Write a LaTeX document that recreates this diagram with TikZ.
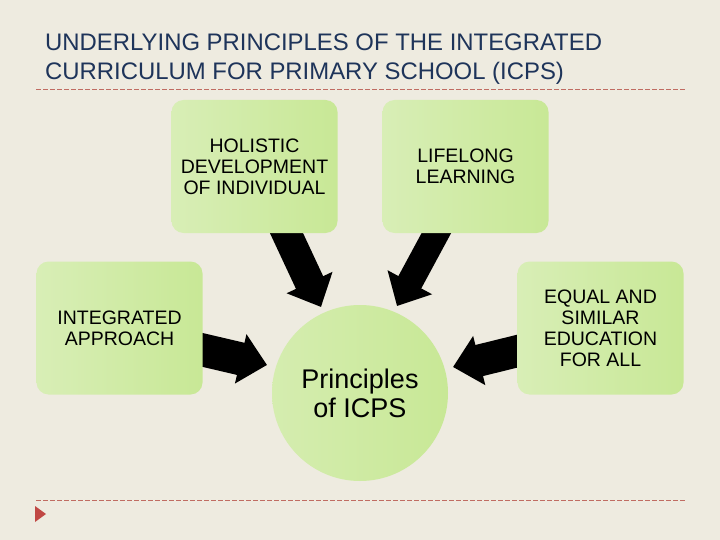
\documentclass[tikz,border=0pt]{standalone}
\usepackage{fontspec}
\setmainfont{Liberation Sans}
\usetikzlibrary{arrows.meta,shapes.geometric}
\definecolor{bgc}{RGB}{238,235,224}
\definecolor{titlec}{RGB}{30,52,90}
\definecolor{dashc}{RGB}{192,108,98}
\definecolor{bulletc}{RGB}{192,72,68}
\definecolor{gl}{RGB}{216,238,182}
\definecolor{gr}{RGB}{200,232,150}
\pgfdeclarelayer{bglayer}
\pgfdeclarelayer{arrowlayer}
\pgfsetlayers{bglayer,arrowlayer,main}
\tikzset{
  greenbox/.style={rectangle, rounded corners=12pt, left color=gl, right color=gr,
    minimum width=166pt, minimum height=133pt, inner sep=0pt, align=center,
    font=\fontsize{19.5}{21}\selectfont},
  greencircle/.style={circle, left color=gl!80!gr, right color=gr, minimum size=176pt,
    inner sep=0pt, align=center, font=\fontsize{27}{29}\selectfont},
  titletext/.style={anchor=base west, inner sep=0pt, text=titlec,
    font=\fontsize{23.9}{29}\selectfont},
  sepline/.style={draw=dashc, line width=0.9pt, dash pattern=on 4.5pt off 2.5pt},
  blockarrow/.style={draw=black, line cap=butt, -{Triangle[width=49pt,length=27pt]}}
}
\begin{document}
\begin{tikzpicture}[x=1pt,y=-1pt]
\begin{pgfonlayer}{bglayer}
  \fill[bgc] (0,0) rectangle (720,540);
\end{pgfonlayer}
\useasboundingbox (0,0) rectangle (720,540);

% title
\node[titletext] (t1) at (45,51) {UNDERLYING PRINCIPLES OF THE INTEGRATED};
\node[titletext] (t2) at (45,80) {CURRICULUM FOR PRIMARY SCHOOL (ICPS)};

% separator lines
\coordinate (l1a) at (36,89);
\coordinate (l1b) at (686,89);
\coordinate (l2a) at (36,500);
\coordinate (l2b) at (686,500);
\draw[sepline] (l1a) -- (l1b);
\draw[sepline] (l2a) -- (l2b);

% bullet triangle
\coordinate (b1) at (35,506);
\coordinate (b2) at (46,514);
\coordinate (b3) at (35,522);
\fill[bulletc] (b1) -- (b2) -- (b3) -- cycle;

% boxes
\node[greenbox] (hol) at (254.5,166.5) {HOLISTIC\\DEVELOPMENT\\OF INDIVIDUAL};
\node[greenbox] (life) at (465.5,166.5) {LIFELONG\\LEARNING};
\node[greenbox] (integ) at (119.5,328) {INTEGRATED\\APPROACH};
\node[greenbox] (equal) at (600.5,328) {EQUAL AND\\SIMILAR\\EDUCATION\\FOR ALL};

% centre circle
\node[greencircle] (centre) at (360,393) {Principles\\of ICPS};

% arrows
\coordinate (a1s) at (282,223.5);
\coordinate (a1t) at (321,307);
\coordinate (a2s) at (441,224.5);
\coordinate (a2t) at (397,306);
\coordinate (a3s) at (190,347);
\coordinate (a3t) at (267,365);
\coordinate (a4s) at (530,348);
\coordinate (a4t) at (453,367);
\begin{pgfonlayer}{arrowlayer}
  \draw[blockarrow, line width=30pt] (a1s) -- (a1t);
  \draw[blockarrow, line width=26pt] (a2s) -- (a2t);
  \draw[blockarrow, line width=33pt] (a3s) -- (a3t);
  \draw[blockarrow, line width=32pt] (a4s) -- (a4t);
\end{pgfonlayer}
\end{tikzpicture}
\end{document}
